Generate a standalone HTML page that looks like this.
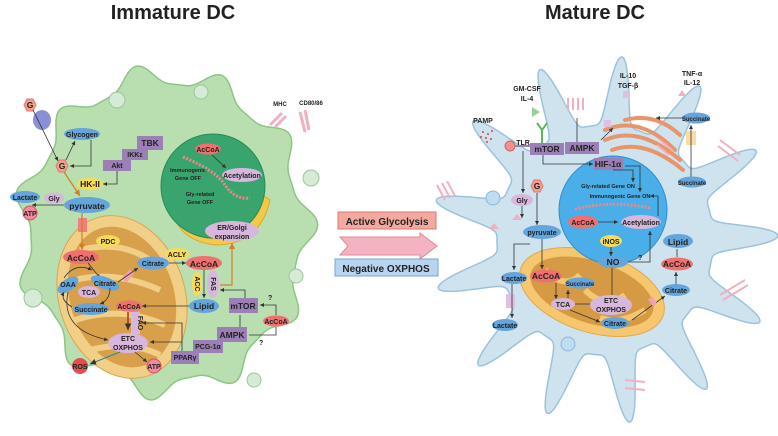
<!DOCTYPE html>
<html><head><meta charset="utf-8"><style>
html,body{margin:0;padding:0;background:#fff}
svg{display:block}
text{font-family:"Liberation Sans",sans-serif;font-weight:bold;fill:#222}
.s{font-size:7px}.m{font-size:8.5px}.l{font-size:10px}
.ar{stroke:#333;stroke-width:0.8;fill:none;marker-end:url(#a)}
</style></head><body>
<svg width="778" height="436" viewBox="0 0 778 436" xmlns="http://www.w3.org/2000/svg">
<defs>
<marker id="a" markerWidth="6" markerHeight="6" refX="5" refY="3" orient="auto"><path d="M0,0.5 L5,3 L0,5.5z" fill="#333"/></marker>
<marker id="o" markerWidth="6" markerHeight="6" refX="5" refY="3" orient="auto"><path d="M0,0.5 L5,3 L0,5.5z" fill="#d08020"/></marker>
</defs>
<text x="173" y="19" text-anchor="middle" style="font-size:20px">Immature DC</text>
<text x="595" y="19" text-anchor="middle" style="font-size:20px">Mature DC</text>

<path id="b1" d="" fill="#b9dfb0" stroke="#8ec486" stroke-width="1.5"/>
<path id="b2" d="" fill="#cfe3ef" stroke="#9cc3db" stroke-width="1.5"/>

<g fill="#d5ebd5" stroke="#9cc49c"><circle cx="117" cy="100" r="8"/><circle cx="201" cy="92" r="7"/><circle cx="311" cy="178" r="8"/><circle cx="33" cy="298" r="9"/><circle cx="296" cy="276" r="7"/><circle cx="254" cy="380" r="7"/></g>
<g fill="#bfdcf0" stroke="#8ab8dc"><circle cx="493" cy="198" r="7"/><circle cx="568" cy="344" r="7"/></g>

<ellipse cx="122" cy="297" rx="63" ry="83" transform="rotate(-18 122 297)" fill="#f2cf86" stroke="#d9a552"/>
<ellipse cx="122" cy="297" rx="52" ry="72" transform="rotate(-18 122 297)" fill="#d9a04c"/>
<path d="M80,250 Q120,240 150,260 M75,280 Q115,270 160,290 M75,320 Q120,305 165,325 M90,350 Q130,340 160,355" stroke="#f2cf86" stroke-width="6" fill="none"/>
<path d="M172,205 Q175,240 215,245 Q260,245 270,200 L262,195 Q255,235 215,238 Q182,235 180,205z" fill="#f5c948" stroke="#d9a830"/>
<path d="M178,220 Q200,250 250,232" stroke="#d9a830" fill="none"/>
<circle cx="213" cy="186" r="52" fill="#39a46d" stroke="#2a8a58"/>
<path d="M183,157 Q215,170 225,185 T250,198" stroke="#e88" stroke-width="3" stroke-dasharray="2 1.5" fill="none"/>

<ellipse cx="592" cy="292" rx="75" ry="40" transform="rotate(18 592 292)" fill="#f6c76e" stroke="#e0a850"/>
<ellipse cx="592" cy="292" rx="64" ry="31" transform="rotate(18 592 292)" fill="#d69a45"/>
<path d="M545,270 Q565,290 580,275 M585,290 Q605,310 625,295 M600,318 Q620,325 645,310" stroke="#f6c76e" stroke-width="6" fill="none"/>
<g stroke="#e8956a" stroke-width="4" fill="none" stroke-linecap="round"><path d="M605,130 Q640,115 675,150"/><path d="M605,140 Q640,125 680,160"/><path d="M612,150 Q645,138 683,170"/><path d="M625,120 Q655,112 680,135"/></g>
<circle cx="613" cy="210" r="54" fill="#4aaee8" stroke="#2f8ccc"/>
<path d="M575,209 Q612,200 650,208" stroke="#e88" stroke-width="3" stroke-dasharray="2 1.5" fill="none"/>

<rect x="338" y="212" width="98" height="17" fill="#f4a9a0" stroke="#d77"/>
<text x="387" y="225" text-anchor="middle" class="l">Active Glycolysis</text>
<path d="M340,237 L420,237 L420,233 L437,246 L420,259 L420,255 L340,255 L348,246z" fill="#f4b3c0" stroke="#e08898"/>
<rect x="335" y="259" width="103" height="17" fill="#b8d4ee" stroke="#7aa6d4"/>
<text x="386" y="272" text-anchor="middle" class="l">Negative OXPHOS</text>

<g>
<ellipse cx="42" cy="120" rx="9" ry="10" fill="#8a90d8"/>
<polygon points="24,105 27,99 33,99 36,105 33,111 27,111" fill="#f4a08a" stroke="#d77"/><text x="30" y="108" text-anchor="middle" class="m">G</text>
<polygon points="56,166 59,160 65,160 68,166 65,172 59,172" fill="#f4a08a" stroke="#d77"/><text x="62" y="169" text-anchor="middle" class="m">G</text>
<path d="M33,110 L58,161" class="ar"/>
<ellipse cx="82" cy="134" rx="18" ry="6" fill="#64a5dc"/><text x="82" y="137" text-anchor="middle" class="s">Glycogen</text>
<path d="M66,160 L75,141" class="ar"/><path d="M91,140 L91,166 L70,166" class="ar"/>
<rect x="137" y="136" width="26" height="14" fill="#9b7fb6"/><text x="150" y="146" text-anchor="middle" class="m">TBK</text>
<rect x="122" y="149" width="26" height="11" fill="#9b7fb6"/><text x="135" y="157" text-anchor="middle" class="s">IKKε</text>
<rect x="103" y="160" width="28" height="11" fill="#9b7fb6"/><text x="117" y="168" text-anchor="middle" class="s">Akt</text>
<path d="M117,171 L117,184 L103,184" class="ar"/>
<ellipse cx="90" cy="184" rx="13" ry="6" fill="#f8dc56"/><text x="90" y="187" text-anchor="middle" class="m">HK-II</text>
<path d="M64,172 L80,196" stroke="#d08020" stroke-width="1.2" fill="none" marker-end="url(#o)"/>
<ellipse cx="25" cy="197" rx="15" ry="6" fill="#64a5dc"/><text x="25" y="200" text-anchor="middle" class="s">Lactate</text>
<ellipse cx="54" cy="198" rx="10" ry="5.5" fill="#d7b7dc"/><text x="54" y="201" text-anchor="middle" class="s">Gly</text>
<ellipse cx="87" cy="205" rx="23" ry="8" fill="#64a5dc"/><text x="87" y="209" text-anchor="middle" class="m">pyruvate</text>
<path d="M64,205 L32,205" class="ar"/>
<circle cx="30" cy="213" r="7" fill="#f08aa0" stroke="#c55"/><text x="30" y="216" text-anchor="middle" class="s">ATP</text>
<rect x="78" y="218" width="9" height="14" fill="#f08080"/>
<path d="M82,213 L82,250" stroke="#d08020" stroke-width="1.2" fill="none" marker-end="url(#o)"/>
<ellipse cx="108" cy="241" rx="12" ry="6" fill="#f8dc56"/><text x="108" y="244" text-anchor="middle" class="s">PDC</text>
<ellipse cx="81" cy="257" rx="18" ry="7" fill="#f07070"/><text x="81" y="261" text-anchor="middle" class="m">AcCoA</text>
<path d="M88,263 L100,278" class="ar"/>
<ellipse cx="68" cy="285" rx="12" ry="6" transform="rotate(-35 68 285)" fill="#64a5dc"/><text x="68" y="287" text-anchor="middle" class="s">OAA</text>
<ellipse cx="105" cy="283" rx="15" ry="6" transform="rotate(20 105 283)" fill="#64a5dc"/><text x="105" y="286" text-anchor="middle" class="s">Citrate</text>
<ellipse cx="89" cy="292" rx="11" ry="6" fill="#d7b7dc"/><text x="89" y="295" text-anchor="middle" class="s">TCA</text>
<ellipse cx="91" cy="309" rx="18" ry="6" fill="#64a5dc"/><text x="91" y="312" text-anchor="middle" class="s">Succinate</text>
<path d="M110,288 Q110,300 100,304" class="ar"/><path d="M72,307 Q60,300 64,292" class="ar"/><path d="M64,278 Q75,262 92,270" class="ar"/>
<ellipse cx="129" cy="306" rx="13" ry="5.5" fill="#f07070"/><text x="129" y="309" text-anchor="middle" class="s">AcCoA</text>
<rect x="131" y="312" width="9" height="22" fill="#d7b7dc"/><text x="0" y="0" class="s" transform="translate(138,323) rotate(90)" text-anchor="middle">FAO</text>
<path d="M128,312 L128,330" stroke="#a02020" stroke-width="1.3" fill="none" marker-end="url(#a)"/>
<ellipse cx="128" cy="343" rx="20" ry="10" fill="#d7b7dc"/><text x="128" y="341" text-anchor="middle" class="s">ETC</text><text x="128" y="350" text-anchor="middle" class="s">OXPHOS</text>
<path d="M68,292 Q60,330 108,340" class="ar"/>
<path d="M120,352 L90,364" stroke="#2a8a8a" stroke-width="1.2" fill="none" marker-end="url(#a)"/>
<circle cx="80" cy="366" r="8" fill="#e05050"/><text x="80" y="369" text-anchor="middle" class="s">ROS</text>
<path d="M135,352 L147,362" class="ar"/>
<circle cx="154" cy="366" r="7" fill="#f08aa0" stroke="#c55"/><text x="154" y="369" text-anchor="middle" class="s">ATP</text>
<rect x="171" y="351" width="28" height="13" fill="#9b7fb6"/><text x="185" y="360" text-anchor="middle" class="s">PPARγ</text>
<rect x="193" y="340" width="30" height="13" fill="#9b7fb6"/><text x="208" y="349" text-anchor="middle" class="s">PCG-1α</text>
<rect x="217" y="327" width="30" height="15" fill="#9b7fb6"/><text x="232" y="338" text-anchor="middle" class="m">AMPK</text>
<rect x="229" y="298" width="29" height="15" fill="#9b7fb6"/><text x="243" y="309" text-anchor="middle" class="m">mTOR</text>
<path d="M182,351 L182,323 L142,323" class="ar"/><path d="M182,342 L150,342" class="ar"/>
<path d="M240,315 L240,327" stroke="#333" stroke-width="0.8"/>
<ellipse cx="276" cy="321" rx="13" ry="5.5" fill="#f07070"/><text x="276" y="324" text-anchor="middle" class="s">AcCoA</text>
<path d="M276,315 L276,305 L260,305" class="ar"/><path d="M276,327 L276,335 L249,335" stroke="#333" stroke-width="0.8" fill="none"/>
<text x="268" y="300" class="s">?</text><text x="259" y="345" class="s">?</text>
<path d="M245,298 L245,290 L220,290" class="ar"/>
<ellipse cx="204" cy="306" rx="15" ry="7" fill="#64a5dc"/><text x="204" y="309" text-anchor="middle" class="m">Lipid</text>
<path d="M189,306 L142,306" class="ar"/>
<ellipse cx="197" cy="284" rx="5" ry="12" fill="#f8dc56"/><text class="s" text-anchor="middle" transform="translate(195,284) rotate(90)">ACC</text>
<ellipse cx="213" cy="284" rx="6" ry="14" fill="#d7b7dc"/><text class="s" text-anchor="middle" transform="translate(211,284) rotate(90)">FAS</text>
<path d="M204,270 L204,298" class="ar"/>
<path d="M220,285 L232,285 L232,243" stroke="#d08020" stroke-width="1.2" fill="none" marker-end="url(#o)"/>
<ellipse cx="153" cy="263" rx="16" ry="6.5" fill="#64a5dc"/><text x="153" y="266" text-anchor="middle" class="s">Citrate</text>
<rect x="125" y="270" width="6" height="12" transform="rotate(40 128 276)" fill="#f0a0b0"/>
<path d="M118,282 L138,268" class="ar"/>
<ellipse cx="177" cy="254" rx="12" ry="6" fill="#f8dc56"/><text x="177" y="257" text-anchor="middle" class="s">ACLY</text>
<path d="M169,263 L186,263" class="ar"/>
<ellipse cx="204" cy="263" rx="18" ry="7" fill="#f07070"/><text x="204" y="267" text-anchor="middle" class="m">AcCoA</text>
<ellipse cx="232" cy="231" rx="27" ry="10" fill="#d7b7dc"/><text x="232" y="230" text-anchor="middle" class="s">ER/Golgi</text><text x="232" y="239" text-anchor="middle" class="s">expansion</text>
<ellipse cx="208" cy="149" rx="13" ry="5.5" fill="#f07070"/><text x="208" y="152" text-anchor="middle" class="s">AcCoA</text>
<path d="M212,155 L226,168" class="ar"/>
<ellipse cx="242" cy="175" rx="20" ry="7" fill="#d7b7dc"/><text x="242" y="178" text-anchor="middle" class="s">Acetylation</text>
<text x="188" y="172" text-anchor="middle" class="s" style="font-size:5.5px">Immunogenic</text><text x="188" y="180" text-anchor="middle" class="s" style="font-size:5.5px">Gene OFF</text>
<text x="200" y="196" text-anchor="middle" class="s" style="font-size:5.5px">Gly-related</text><text x="200" y="204" text-anchor="middle" class="s" style="font-size:5.5px">Gene OFF</text>
<text x="280" y="106" text-anchor="middle" class="s" style="font-size:6px">MHC</text><text x="311" y="105" text-anchor="middle" class="s" style="font-size:6px">CD80/86</text>
<path d="M270,125 L282,113 M275,127 L286,116" stroke="#f0b0c0" stroke-width="3"/><path d="M300,112 L305,132 M305,110 L309,130" stroke="#f0b0c0" stroke-width="3"/>
</g>

<g>
<text x="483" y="123" text-anchor="middle" class="s">PAMP</text>
<g fill="#e04040"><circle cx="483" cy="132" r="1"/><circle cx="488" cy="134" r="1"/><circle cx="492" cy="131" r="1"/><circle cx="486" cy="138" r="1"/><circle cx="491" cy="139" r="1"/><circle cx="481" cy="137" r="1"/><circle cx="487" cy="142" r="1"/></g>
<text x="527" y="91" text-anchor="middle" class="s">GM-CSF</text><text x="527" y="101" text-anchor="middle" class="s">IL-4</text>
<polygon points="532,107 540,112 532,117" fill="#9ccf9c"/>
<path d="M537,123 L542,130 L547,123 M542,130 L542,145" stroke="#5cb85c" stroke-width="2" fill="none"/>
<circle cx="510" cy="146" r="5" fill="#f09090" stroke="#c66"/>
<path d="M515,146 L530,146" stroke="#9b7fb6" stroke-width="2"/>
<text x="523" y="145" text-anchor="middle" class="s">TLR</text>
<rect x="530" y="143" width="34" height="12" fill="#9b7fb6"/><text x="547" y="152" text-anchor="middle" class="m">mTOR</text>
<rect x="565" y="142" width="34" height="12" fill="#9b7fb6"/><text x="582" y="151" text-anchor="middle" class="m">AMPK</text>
<path d="M577,142 L577,118" stroke="#333" stroke-width="0.8"/>
<path d="M601,140 L613,128" class="ar"/>
<rect x="604" y="120" width="7" height="7" fill="#e0c0e0"/>
<path d="M568,110 L568,98 M573,110 L573,98 M578,110 L578,98 M583,110 L583,98" stroke="#f0b0c0" stroke-width="2"/>
<text x="628" y="78" text-anchor="middle" class="s">IL-10</text><text x="628" y="88" text-anchor="middle" class="s">TGF-β</text>
<rect x="623" y="91" width="7" height="7" fill="#e0c0e0"/>
<text x="692" y="76" text-anchor="middle" class="s">TNF-α</text><text x="692" y="85" text-anchor="middle" class="s">IL-12</text>
<polygon points="678,96 682,90 686,96" fill="#f0b0c0"/>
<ellipse cx="696" cy="118" rx="14" ry="5.5" fill="#64a5dc"/><text x="696" y="121" text-anchor="middle" class="s" style="font-size:6px">Succinate</text>
<path d="M682,118 L656,118" class="ar"/>
<rect x="686" y="131" width="10" height="14" fill="#f8dca0"/>
<path d="M691,177 L691,125" class="ar"/>
<ellipse cx="692" cy="182" rx="14" ry="5.5" fill="#64a5dc"/><text x="692" y="185" text-anchor="middle" class="s" style="font-size:6px">Succinate</text>
<path d="M543,155 L543,164 L593,164" class="ar"/>
<rect x="594" y="158" width="29" height="12" fill="#9b7fb6"/><text x="608" y="167" text-anchor="middle" class="m">HIF-1α</text>
<path d="M613,170 L633,170 L633,182" class="ar"/><path d="M625,166 L640,166 L640,192" class="ar"/>
<text x="608" y="188" text-anchor="middle" class="s" style="font-size:5.5px">Gly-related Gene ON</text>
<text x="620" y="198" text-anchor="middle" class="s" style="font-size:5.5px">Immunogenic Gene ON</text>
<ellipse cx="583" cy="222" rx="15" ry="6.5" fill="#f07070"/><text x="583" y="225" text-anchor="middle" class="s">AcCoA</text>
<path d="M598,222 L618,222" class="ar"/>
<ellipse cx="641" cy="222" rx="20" ry="7" fill="#d7b7dc"/><text x="641" y="225" text-anchor="middle" class="s">Acetylation</text>
<path d="M658,216 L658,196 L650,196" class="ar"/>
<ellipse cx="611" cy="241" rx="11" ry="6" fill="#f8dc56"/><text x="611" y="244" text-anchor="middle" class="s">iNOS</text>
<path d="M611,247 L611,256" class="ar"/>
<ellipse cx="613" cy="262" rx="15" ry="6" fill="#64a5dc"/><text x="613" y="265" text-anchor="middle" class="m">NO</text>
<path d="M628,262 L650,262 L650,231" class="ar"/><text x="638" y="260" class="s">?</text>
<path d="M612,268 L612,295" stroke="#333" stroke-width="0.8"/>
<ellipse cx="678" cy="241" rx="15" ry="7" fill="#64a5dc"/><text x="678" y="245" text-anchor="middle" class="m">Lipid</text>
<ellipse cx="677" cy="264" rx="16" ry="6.5" fill="#f07070"/><text x="677" y="267" text-anchor="middle" class="m">AcCoA</text>
<ellipse cx="676" cy="290" rx="14" ry="6" fill="#64a5dc"/><text x="676" y="293" text-anchor="middle" class="s">Citrate</text>
<path d="M677,257 L677,249 M676,284 L676,272" class="ar"/>
<path d="M632,320 L665,296" class="ar"/>
<polygon points="531,186 534,180 540,180 543,186 540,192 534,192" fill="#f4a08a" stroke="#d77"/><text x="537" y="189" text-anchor="middle" class="m">G</text>
<path d="M537,193 L537,225" class="ar"/>
<ellipse cx="522" cy="200" rx="11" ry="6" fill="#d7b7dc"/><text x="522" y="203" text-anchor="middle" class="s">Gly</text>
<path d="M522,206 L522,218" class="ar"/><path d="M523,151 L523,193" class="ar"/>
<polygon points="512,220 517,214 522,220" fill="#f0b0c0"/><polygon points="489,229 494,223 499,229" fill="#f0b0c0"/>
<ellipse cx="542" cy="232" rx="19" ry="7" fill="#64a5dc"/><text x="542" y="235" text-anchor="middle" class="s">pyruvate</text>
<path d="M530,244 L514,244 L514,270" class="ar"/><path d="M542,239 L542,269" class="ar"/>
<ellipse cx="514" cy="278" rx="13" ry="6" fill="#64a5dc"/><text x="514" y="281" text-anchor="middle" class="s">Lactate</text>
<rect x="506" y="294" width="9" height="14" fill="#e0c0e0"/>
<path d="M512,284 L512,318" class="ar"/>
<ellipse cx="505" cy="325" rx="13" ry="6" fill="#64a5dc"/><text x="505" y="328" text-anchor="middle" class="s">Lactate</text>
<ellipse cx="546" cy="276" rx="16" ry="6.5" fill="#f07070"/><text x="546" y="279" text-anchor="middle" class="m">AcCoA</text>
<path d="M556,283 L556,299" class="ar"/>
<ellipse cx="580" cy="283" rx="15" ry="5.5" fill="#64a5dc"/><text x="580" y="286" text-anchor="middle" class="s" style="font-size:6px">Succinate</text>
<ellipse cx="563" cy="304" rx="12" ry="6" fill="#d7b7dc"/><text x="563" y="307" text-anchor="middle" class="s">TCA</text>
<path d="M568,298 L568,290" class="ar"/><path d="M575,304 L597,304" class="ar"/><path d="M570,310 L600,322" class="ar"/>
<ellipse cx="611" cy="305" rx="21" ry="10" fill="#d7b7dc"/><text x="611" y="303" text-anchor="middle" class="s">ETC</text><text x="611" y="312" text-anchor="middle" class="s">OXPHOS</text>
<ellipse cx="615" cy="323" rx="14" ry="6" fill="#64a5dc"/><text x="615" y="326" text-anchor="middle" class="s">Citrate</text>
<path d="M655,305 L650,298" stroke="#f0a0b0" stroke-width="5"/>
<g stroke="#f0b0c0" stroke-width="2"><path d="M437,185 L445,200 M442,183 L450,198 M447,181 L455,196"/><path d="M660,140 L672,150 M657,145 L669,155"/><path d="M720,140 L740,155 M718,146 L738,161"/><path d="M720,295 L745,280 M723,300 L748,285"/><path d="M625,380 L645,382 M625,388 L645,390"/></g>
</g>
<script>
function blob(id,cx,cy,rx,ry,n,amp,p,ph){var d="";for(var i=0;i<=720;i++){var t=i*Math.PI/360;var f=Math.pow((1+Math.cos(n*t+ph))/2,p);var r=1+amp*f;var x=cx+rx*r*Math.cos(t),y=cy+ry*r*Math.sin(t);d+=(i?"L":"M")+x.toFixed(1)+","+y.toFixed(1);}document.getElementById(id).setAttribute("d",d+"Z");}
blob("b1",165,232,134,148,11,0.14,2,0.5);
blob("b2",605,240,108,115,13,0.6,3,0.3);
</script>
</svg>
</body></html>
